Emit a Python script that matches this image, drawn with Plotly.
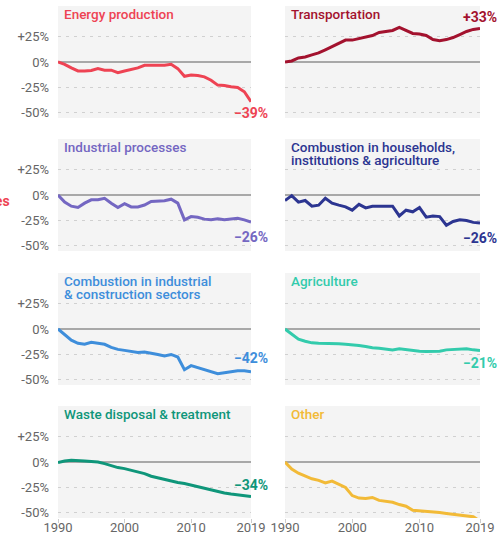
import plotly.graph_objects as go

# ---------------- data ----------------
years = list(range(1990, 2020))

energy_production = [0, -2.3, -5.8, -8.8, -8.8, -8.4, -6.5, -8, -8, -10.4,
                     -8.8, -7.5, -5.8, -3.2, -3.2, -3.9, -3.2, -2.3, -6.5, -14,
                     -12.7, -13.3, -14.6, -17.9, -22.7, -23, -24.4, -25, -29.2, -39]
transportation = [0, 1, 4, 5, 7, 9, 12, 15, 18, 21.5,
                  21.5, 23, 24.5, 26, 29, 30, 31, 34, 31, 28,
                  27.5, 26, 22, 21, 22, 24, 27, 30, 32, 33]
industrial_processes = [0, -7, -11, -12.3, -8, -4.7, -4.7, -3.2, -8, -12.3,
                        -8.5, -11.7, -11.7, -9.8, -6.3, -5.7, -5.7, -4.1, -8, -24.4,
                        -21.2, -21.8, -23.7, -24.4, -23.4, -24.4, -23.7, -22.8, -24.4, -26.5]
combustion_households = [-5.4, -0.6, -7, -5.4, -11, -10, -3.2, -8, -10, -11.7,
                         -14.9, -9.2, -12.7, -11, -11, -11, -11, -20.6, -14.9, -16.5,
                         -12.3, -21.8, -20.6, -21.2, -29.7, -26, -24.4, -25, -26.9, -27.5]
combustion_industrial = [0, -6, -11, -14, -15, -13, -14, -15, -18, -20,
                         -21, -22, -23, -22.5, -23.5, -25, -26.5, -25, -27.5, -40,
                         -36, -38, -40, -42, -44, -43, -42, -41, -41, -42]
agriculture = [0, -5, -10, -12, -13.6, -14, -14, -14.3, -14.6, -15,
               -15.3, -16.2, -17.2, -18.5, -18.8, -19.5, -20.5, -19.5, -20.5, -21,
               -21.8, -22, -21.8, -21.8, -20.5, -20, -19.8, -19.5, -20.5, -21]
waste_disposal = [-0.6, 1, 1.6, 1.6, 1, 0.6, 0, -1.6, -3.9, -5.5,
                  -6.5, -8.1, -9.7, -11.4, -14, -15.6, -17.2, -18.8, -20.1, -21.1,
                  -22.7, -24.4, -26, -27.6, -29.2, -30.5, -31.5, -32.5, -33.1, -34]
other = [0, -7, -11, -14, -16.5, -18, -20.5, -18.7, -21.8, -25,
         -33, -35.4, -35.8, -34.8, -37.7, -38.6, -39.6, -41.8, -43.4, -47.5,
         -48, -48, -49, -49.7, -50.6, -51.3, -52, -52.8, -53.8, -58]

titles = [
    ["Energy production"],
    ["Transportation"],
    ["Industrial processes"],
    ["Combustion in households,", "institutions & agriculture"],
    ["Combustion in industrial", "& construction sectors"],
    ["Agriculture"],
    ["Waste disposal & treatment"],
    ["Other"],
]
series = [energy_production, transportation, industrial_processes, combustion_households,
          combustion_industrial, agriculture, waste_disposal, other]
end_labels = ["−39%", "+33%", "−26%", "−26%", "−42%", "−21%", "−34%", "−58%"]

y_tickvals = [25, 0, -25, -50]
y_ticktext = ["+25%", "0%", "-25%", "-50%"]
x_tickvals = [1990, 2000, 2010, 2019]
x_ticktext = ["1990", "2000", "2010", "2019"]

# ---------------- style ----------------
colors = ["#ee4353", "#a3122e", "#7467c2", "#2c3591",
          "#3e8edb", "#33cbac", "#0f967a", "#f2ba37"]
label_shift = [-11, 11, -15, -15, 14, -13, 12, 13]

W, H = 502, 539
FONT = "Roboto, 'Open Sans', sans-serif"
row_tops = [6, 139, 273, 406]
panel_h = 112
col_x = [(58, 251), (285, 480)]

fig = go.Figure()
annotations = []
layout = {}

for i, vals in enumerate(series):
    r, c = divmod(i, 2)
    n = i + 1
    sfx = "" if n == 1 else str(n)
    x0, x1 = col_x[c]
    top = row_tops[r]
    ydom = [1 - (top + panel_h) / H, 1 - top / H]
    xdom = [x0 / W, x1 / W]
    bottom_row = (r == 3)
    layout["xaxis" + sfx] = dict(
        domain=xdom, anchor="y" + sfx, range=[1990, 2019],
        showgrid=False, zeroline=False, showline=False,
        tickmode="array", tickvals=x_tickvals, ticktext=x_ticktext,
        showticklabels=bottom_row, ticks="",
        minor=dict(tickmode="array", tickvals=x_tickvals if bottom_row else [],
                   ticks="outside" if bottom_row else "", ticklen=4,
                   tickcolor="#cccccc", tickwidth=1, showgrid=False),
        tickfont=dict(family=FONT, size=13, color="#666666"),
        fixedrange=True, automargin=False,
    )
    layout["yaxis" + sfx] = dict(
        domain=ydom, anchor="x" + sfx, range=[-55, 55],
        tickmode="array", tickvals=y_tickvals, ticktext=y_ticktext,
        showticklabels=(c == 0), ticks="", ticklabelstandoff=8,
        showgrid=True, gridcolor="#d0d0d0", gridwidth=1, griddash="3px,5px",
        zeroline=True, zerolinecolor="#a8a8a8", zerolinewidth=1.5,
        showline=False,
        tickfont=dict(family=FONT, size=13, color="#666666"),
        fixedrange=True, automargin=False,
    )
    fig.add_trace(go.Scatter(
        x=years, y=vals, mode="lines",
        line=dict(color=colors[i], width=3),
        xaxis="x" + sfx, yaxis="y" + sfx,
        showlegend=False, hoverinfo="skip",
    ))
    for k, line in enumerate(titles[i]):
        annotations.append(dict(
            text=line, xref=f"x{sfx} domain" if sfx else "x domain",
            yref=f"y{sfx} domain" if sfx else "y domain",
            x=0, y=1, xanchor="left", yanchor="middle",
            xshift=4, yshift=-(8 + 13.5 * k), showarrow=False,
            font=dict(family=FONT, size=13.5, color=colors[i], weight=500),
        ))
    annotations.append(dict(
        text=end_labels[i], xref="x" + sfx, yref="y" + sfx,
        x=years[-1], y=vals[-1], xanchor="center", yanchor="middle",
        yshift=label_shift[i], showarrow=False,
        font=dict(family=FONT, size=14, color=colors[i], weight=700),
    ))

# clipped fragment at the far left edge
annotations.append(dict(
    text="categories", xref="paper", yref="paper",
    x=12 / W, y=1 - 201 / H, xanchor="right", yanchor="middle",
    showarrow=False,
    font=dict(family=FONT, size=14, color=colors[0], weight=700),
))

fig.update_layout(
    width=W, height=H, autosize=False,
    margin=dict(l=0, r=0, t=0, b=0, pad=0, autoexpand=False),
    paper_bgcolor="white", plot_bgcolor="#f4f4f4",
    annotations=annotations,
    **layout,
)

fig.write_html(
    "out.html",
    config={"displayModeBar": False, "staticPlot": True},
    post_script="document.body.style.margin='0';document.body.style.overflow='hidden';",
)
